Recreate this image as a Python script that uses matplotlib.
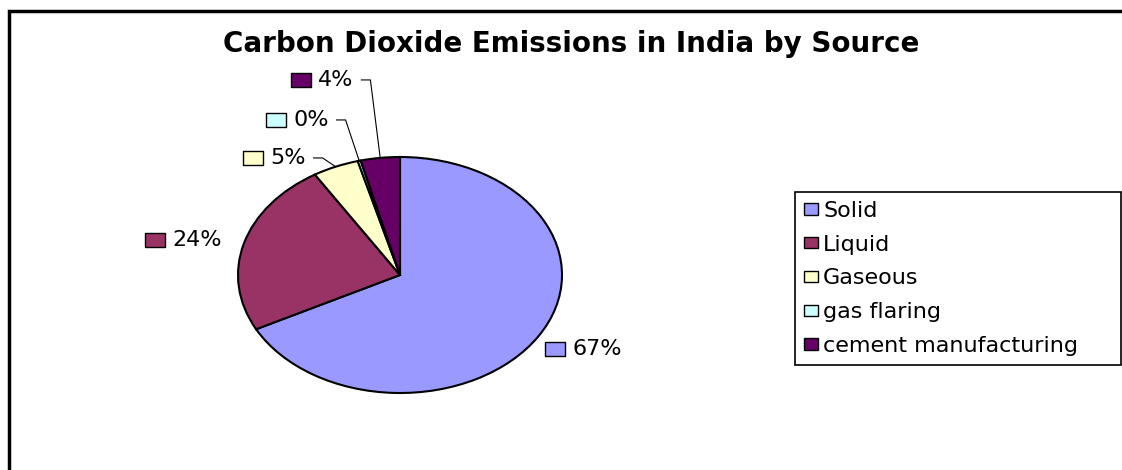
import matplotlib
matplotlib.use("Agg")
import matplotlib.pyplot as plt
import matplotlib.transforms as mtransforms
from matplotlib.patches import Patch, Rectangle
import numpy as np

# data
sources = ["Solid", "Liquid", "Gaseous", "gas flaring", "cement manufacturing"]
shares = [67.4, 23.8, 4.6, 0.3, 3.9]
colors = ["#9999FF", "#993366", "#FFFFCC", "#CCFFFF", "#660066"]
title = "Carbon Dioxide Emissions in India by Source"

# label layout (text start, in units of pie radius) and which get a leader line
label_pos = [(1.062, -0.627), (-1.407, 0.297), (-0.802, 0.992), (-0.660, 1.314), (-0.506, 1.653)]
leader = [False, False, True, True, True]

plt.rcParams["font.family"] = ["DejaVu Sans"]
W, H = 1122, 470
fig = plt.figure(figsize=(W / 100, H / 100), dpi=100)

# frame of the chart area (only top / left visible in the crop)
fig.patches.append(Rectangle((9 / W, -0.5), 2.0, 1.5 - 11 / H,
                             transform=fig.transFigure, fill=False,
                             edgecolor="black", linewidth=2.5))

fig.text(571 / W, 1 - 52 / H, title, ha="center", va="baseline",
         fontsize=20, fontweight="bold")

ax = fig.add_axes([238 / W, (H - 393) / H, 324 / W, 236 / H])
wedges, _ = ax.pie(shares, colors=colors, startangle=90, counterclock=False,
                   radius=1, wedgeprops=dict(edgecolor="black", linewidth=1.5))
ax.set_aspect("auto")
ax.set_xlim(-1, 1)
ax.set_ylim(-1, 1)
ax.axis("off")

fs = 16
sq_off = mtransforms.ScaledTranslation(-0.17, 0, fig.dpi_scale_trans)
key_marker = [(-1, -0.72), (1, -0.72), (1, 0.72), (-1, 0.72), (-1, -0.72)]
texts = []
for i, (w, v) in enumerate(zip(wedges, shares)):
    x, y = label_pos[i]
    t = ax.text(x, y, f"{round(v)}%", ha="left", va="center", fontsize=fs)
    texts.append(t)
    ax.plot([x], [y], marker=key_marker, markersize=15, color=colors[i],
            markeredgecolor="black", markeredgewidth=1.0, clip_on=False,
            transform=ax.transData + sq_off)

fig.canvas.draw()
r = fig.canvas.get_renderer()
inv = ax.transData.inverted()
for i, w in enumerate(wedges):
    if not leader[i]:
        continue
    bb = texts[i].get_window_extent(r)
    yc = (bb.y0 + bb.y1) / 2
    p0 = inv.transform((bb.x1 + 8, yc))
    p1 = inv.transform((bb.x1 + 17, yc))
    ang = np.deg2rad((w.theta1 + w.theta2) / 2)
    p2 = (np.cos(ang), np.sin(ang))
    ax.plot([p0[0], p1[0], p2[0]], [p0[1], p1[1], p2[1]], color="black",
            linewidth=0.8, clip_on=False)

handles = [Patch(facecolor=c, edgecolor="black", linewidth=1.0) for c in colors]
leg = fig.legend(handles, sources, loc="upper left",
                 bbox_to_anchor=(795 / W, 0.1, (1121 - 795) / W, 1 - 192 / H - 0.1),
                 mode="expand", borderaxespad=0, fontsize=fs, frameon=True,
                 fancybox=False, edgecolor="black", framealpha=1,
                 handlelength=0.62, handleheight=0.42, handletextpad=0.25,
                 labelspacing=0.62, borderpad=0.4)
leg.get_frame().set_linewidth(1.2)

fig.savefig("out.png", dpi=100)
